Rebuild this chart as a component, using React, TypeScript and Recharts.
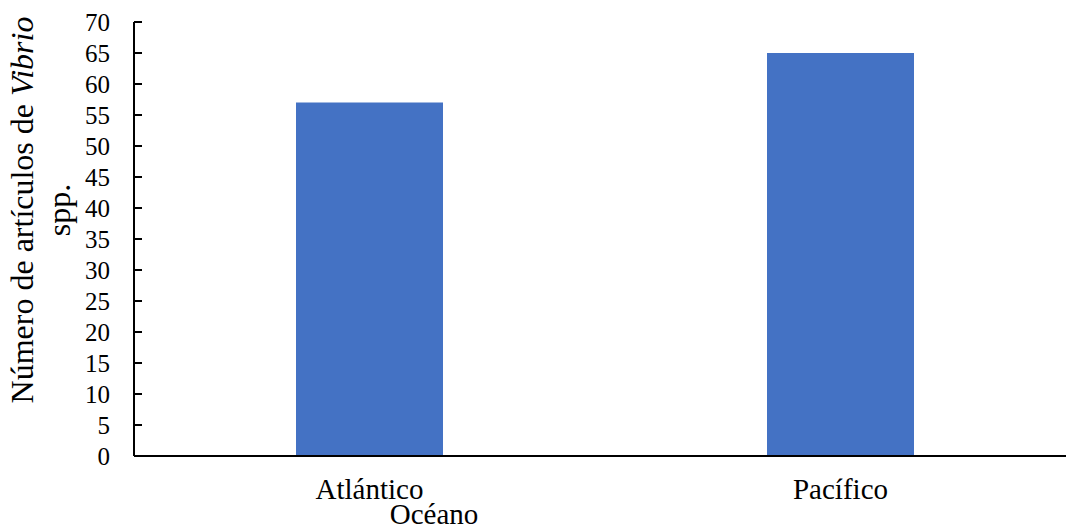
import React from 'react';
import { BarChart, Bar, XAxis, YAxis, Label } from 'recharts';

const oceanos = ['Atlántico', 'Pacífico'];
const articulos = [57, 65];
const yTicks = [0, 5, 10, 15, 20, 25, 30, 35, 40, 45, 50, 55, 60, 65, 70];

const data = oceanos.map((name, i) => ({ name, articulos: articulos[i] }));

const serif = '"Liberation Serif", "Times New Roman", serif';

const YTick = (props: any) => {
  const { x, y, payload } = props;
  return (
    <g>
      <text x={x} y={y} textAnchor="end" dominantBaseline="central" fontFamily={serif} fontSize={25} fill="#000">
        {payload.value}
      </text>
      <line x1={x + 24} x2={x + 32} y1={y} y2={y} stroke="#000" strokeWidth={2} />
    </g>
  );
};

const XTick = (props: any) => {
  const { x, y, payload } = props;
  return (
    <text x={x} y={y + 41} textAnchor="middle" fontFamily={serif} fontSize={29} fill="#000">
      {payload.value}
    </text>
  );
};

const YTitle = () => (
  <text transform="translate(0, 210) rotate(-90)" textAnchor="middle" fontFamily={serif} fontSize={32} fill="#000">
    <tspan x={0} y={33}>
      Número de artículos de <tspan fontStyle="italic">Vibrio</tspan>
    </tspan>
    <tspan x={0} y={70}>spp.</tspan>
  </text>
);

const XTitle = () => (
  <text x={434} y={524} textAnchor="middle" fontFamily={serif} fontSize={29} fill="#000">
    Océano
  </text>
);

export default function App() {
  return (
    <div style={{ position: 'absolute', top: 0, left: 0, width: 1066, height: 529, overflow: 'hidden', background: '#fff' }}>
      <BarChart width={1076} height={529} data={data} margin={{ top: 22, right: 0, left: 0, bottom: 0 }}>
        <XAxis
          dataKey="name"
          height={73}
          tickLine={false}
          tickSize={0}
          axisLine={{ stroke: '#000', strokeWidth: 2 }}
          tick={<XTick />}
          interval={0}
        >
          <Label content={<XTitle />} />
        </XAxis>
        <YAxis
          width={134}
          domain={[0, 70]}
          ticks={yTicks}
          interval={0}
          tickLine={false}
          tickSize={0}
          tickMargin={24}
          axisLine={{ stroke: '#000', strokeWidth: 2 }}
          tick={<YTick />}
        >
          <Label content={<YTitle />} />
        </YAxis>
        <Bar dataKey="articulos" fill="#4472C4" barSize={147} isAnimationActive={false} />
      </BarChart>
    </div>
  );
}
